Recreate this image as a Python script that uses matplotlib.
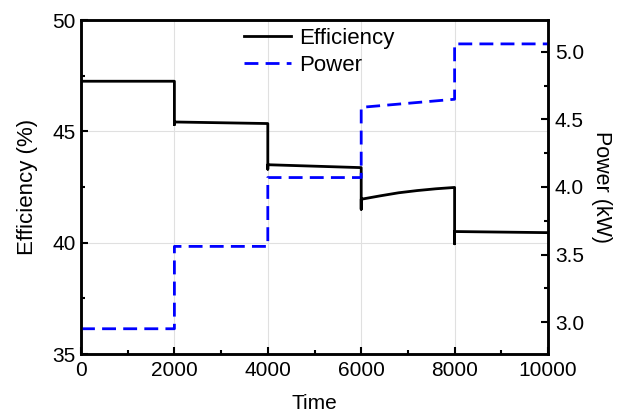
import matplotlib
matplotlib.use("Agg")
import matplotlib.pyplot as plt
from matplotlib.ticker import MultipleLocator, FormatStrFormatter

plt.rcParams['font.family'] = ['Liberation Sans', 'DejaVu Sans']

# efficiency trace (time, %)
eff_t = [0, 2000, 2000, 2000, 4000, 4000, 4000, 6000, 6000, 6000,
         6400, 6800, 7200, 7600, 8000, 8000, 8000, 10000]
eff_v = [47.25, 47.25, 45.3, 45.42, 45.35, 43.3, 43.5, 43.37, 41.5, 41.95,
         42.1, 42.24, 42.34, 42.42, 42.48, 39.95, 40.5, 40.45]

# power trace (time, kW)
pow_t = [0, 2000, 2000, 4000, 4000, 6000, 6000, 8000, 8000, 10000]
pow_v = [2.95, 2.95, 3.56, 3.56, 4.07, 4.07, 4.59, 4.65, 5.06, 5.06]

fig = plt.figure(figsize=(6.29, 4.16), dpi=100)
ax = fig.add_axes([81/629, 1-354/416, 467/629, 334/416])
ax2 = ax.twinx()

l1, = ax.plot(eff_t, eff_v, color='black', lw=2.0, label='Efficiency')
l2, = ax2.plot(pow_t, pow_v, color='blue', lw=2.0, ls=(0, (5, 2.6)), label='Power')

ax.set_xlim(0, 10000)
ax.set_ylim(35, 50)
ax2.set_ylim(2.763, 5.237)

ax.xaxis.set_major_locator(MultipleLocator(2000))
ax.xaxis.set_minor_locator(MultipleLocator(1000))
ax.yaxis.set_major_locator(MultipleLocator(5))
ax.yaxis.set_minor_locator(MultipleLocator(2.5))
ax2.yaxis.set_major_locator(MultipleLocator(0.5))
ax2.yaxis.set_minor_locator(MultipleLocator(0.25))
ax2.yaxis.set_major_formatter(FormatStrFormatter('%.1f'))

ax.grid(True, which='major', color='#e0e0e0', lw=0.8)
ax.set_axisbelow(True)

for a in (ax, ax2):
    for s in a.spines.values():
        s.set_linewidth(1.8)
    a.tick_params(which='major', direction='in', length=5, width=1.5, labelsize=15)
    a.tick_params(which='minor', direction='in', length=3, width=1.5)
ax.tick_params(axis='x', pad=5)
ax.tick_params(axis='y', pad=4)
ax2.tick_params(axis='y', pad=5)

ax.set_xlabel('Time', fontsize=15, labelpad=10)
ax.set_ylabel('Efficiency (%)', fontsize=16, labelpad=10)
ax2.set_ylabel('Power (kW)', fontsize=15.5, rotation=270, labelpad=20)

ax.legend([l1, l2], ['Efficiency', 'Power'], loc='upper left', frameon=False,
          bbox_to_anchor=(0.315, 1.024), fontsize=16, handlelength=2.15,
          handletextpad=0.35, labelspacing=0.3, borderpad=0.2)

fig.savefig('out.png', dpi=100)
